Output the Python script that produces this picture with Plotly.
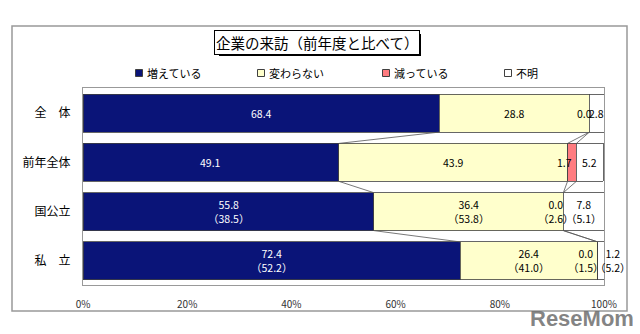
import plotly.graph_objects as go

# ---- data ----
categories = ["全　体", "前年全体", "国公立", "私　立"]
series_names = ["増えている", "変わらない", "減っている", "不明"]
increased = [68.4, 49.1, 55.8, 72.4]
unchanged = [28.8, 43.9, 36.4, 26.4]
decreased = [0.0, 1.7, 0.0, 0.0]
unknown = [2.8, 5.2, 7.8, 1.2]
# previous-year values shown in parentheses
prev_increased = [None, None, 38.5, 52.2]
prev_unchanged = [None, None, 53.8, 41.0]
prev_decreased = [None, None, 2.6, 1.5]
prev_unknown = [None, None, 5.1, 5.2]
x_ticks = [0, 20, 40, 60, 80, 100]
x_tick_labels = ["0%", "20%", "40%", "60%", "80%", "100%"]
title_text = "企業の来訪（前年度と比べて）"

# ---- style ----
W, H = 640, 334
L, R, T, B = 83, 36, 88, 49
colors = ["#0A1478", "#FFFFCC", "#FF7C80", "#FFFFFF"]
text_colors = ["white", "black", "black", "black"]
edge = "#404040"
bar_w = 0.77
font_jp = "Noto Sans CJK JP, sans-serif"
label_shift = {(2, 0): -5, (2, 1): -7, (2, 2): -7, (2, 3): -12, (3, 3): 12}

pw, ph = W - L - R, H - T - B
def px(xp):
    return (xp - L) / pw
def py(yp):
    return (H - B - yp) / ph

values = [increased, unchanged, decreased, unknown]
prevs = [prev_increased, prev_unchanged, prev_decreased, prev_unknown]
ypos = list(range(len(categories)))

fig = go.Figure()
for s, name in enumerate(series_names):
    fig.add_trace(go.Bar(
        y=ypos, x=values[s], orientation="h", name=name, width=bar_w,
        marker=dict(color=colors[s], line=dict(color=edge, width=0.8)),
        hoverinfo="skip", showlegend=False,
    ))

# cumulative ends
cum = []
for i in ypos:
    c, row = 0.0, []
    for s in range(len(series_names)):
        c += values[s][i]
        row.append(c)
    cum.append(row)

# series connector lines
for k in range(3):
    for i in ypos[:-1]:
        fig.add_trace(go.Scatter(
            x=[cum[i][k], cum[i + 1][k]],
            y=[i + bar_w / 2, i + 1 - bar_w / 2],
            mode="lines", line=dict(color="#555555", width=0.8),
            hoverinfo="skip", showlegend=False,
        ))

annotations = []
for s in range(len(series_names)):
    for i in ypos:
        v = values[s][i]
        start = cum[i][s] - v
        txt = f"{v:.1f}"
        p = prevs[s][i]
        if p is not None:
            txt += f"<br>（{p:.1f}）"
        annotations.append(dict(
            x=start + v / 2, y=i, xref="x", yref="y", text=txt, showarrow=False,
            xanchor="center", yanchor="middle",
            xshift=label_shift.get((s, i), 0),
            font=dict(family=font_jp, size=10.5, color=text_colors[s]),
        ))

# legend (custom)
legend_x = [139, 261, 386, 508]
legend_y = 73
shapes = []
for s, name in enumerate(series_names):
    shapes.append(dict(
        type="rect", xref="paper", yref="paper",
        x0=px(legend_x[s] - 3.5), x1=px(legend_x[s] + 3.5),
        y0=py(legend_y + 3.5), y1=py(legend_y - 3.5),
        fillcolor=colors[s], line=dict(color=edge, width=1),
    ))
    annotations.append(dict(
        x=px(legend_x[s] + 6), y=py(legend_y), xref="paper", yref="paper",
        xanchor="left", yanchor="middle", text=name, showarrow=False,
        font=dict(family=font_jp, size=11, color="black"),
    ))

# outer frame
shapes.append(dict(type="rect", xref="paper", yref="paper", layer="below",
                   x0=px(12), x1=px(627), y0=py(311), y1=py(26),
                   line=dict(color="#999999", width=1.5), fillcolor="rgba(0,0,0,0)"))
# title shadow
shapes.append(dict(type="rect", xref="paper", yref="paper",
                   x0=px(219), x1=px(421), y0=py(56), y1=py(34),
                   line=dict(color="black", width=0), fillcolor="black"))
annotations.append(dict(
    x=px(317), y=py(42.5), xref="paper", yref="paper", text=title_text,
    xanchor="center", yanchor="middle",
    showarrow=False, bgcolor="white", bordercolor="black", borderwidth=1, borderpad=1,
    font=dict(family=font_jp, size=14.5, color="black"),
))
# watermark
annotations.append(dict(
    x=px(582), y=py(318), xref="paper", yref="paper", text="<b>ReseMom</b>",
    xanchor="center", yanchor="middle",
    showarrow=False, font=dict(family="Liberation Sans, Arial", size=22, color="rgba(110,110,110,0.85)"),
))

fig.update_layout(
    width=W, height=H, margin=dict(l=L, r=R, t=T, b=B),
    barmode="stack", paper_bgcolor="white", plot_bgcolor="white",
    showlegend=False, annotations=annotations, shapes=shapes,
    xaxis=dict(range=[0, 100], tickvals=x_ticks, ticktext=x_tick_labels,
               showgrid=False, zeroline=False, showline=True, mirror=True,
               linecolor="#999999", linewidth=1, ticks="", ticklabelstandoff=10,
               tickfont=dict(family=font_jp, size=10, color="#333333")),
    yaxis=dict(range=[3.49, -0.51], tickvals=ypos, ticktext=categories,
               showgrid=False, zeroline=False, showline=True, mirror=True,
               linecolor="#999999", linewidth=1, ticks="", ticklabelstandoff=9,
               tickfont=dict(family=font_jp, size=12, color="black")),
)

fig.write_html("out.html")
